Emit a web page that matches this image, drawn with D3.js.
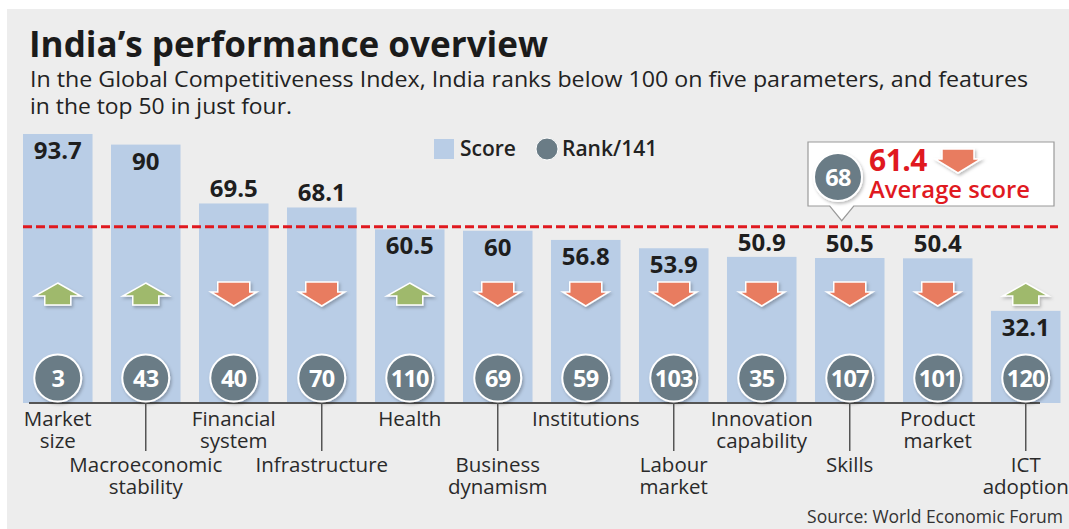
<!DOCTYPE html>
<html>
<head>
<meta charset="utf-8">
<script src="https://cdn.jsdelivr.net/npm/d3@7"></script>
<style>
  body { margin: 0; background: #fff; }
  svg { display: block; font-family: "Open Sans", "Noto Sans", sans-serif; }
</style>
</head>
<body>
<svg id="chart"></svg>
<script>
const categories = ["Market size", "Macroeconomic stability", "Financial system", "Infrastructure",
  "Health", "Business dynamism", "Institutions", "Labour market", "Innovation capability",
  "Skills", "Product market", "ICT adoption"];
const scores = [93.7, 90, 69.5, 68.1, 60.5, 60, 56.8, 53.9, 50.9, 50.5, 50.4, 32.1];
const ranks = [3, 43, 40, 70, 110, 69, 59, 103, 35, 107, 101, 120];
const trends = ["up", "up", "down", "down", "up", "down", "down", "down", "down", "down", "down", "up"];
const avgScore = 61.4;
const avgRank = 68;
const avgTrend = "down";

const width = 1069, height = 529;
const svg = d3.select("#chart").attr("width", width).attr("height", height);

const barColor = "#b9cde6", rankColor = "#6a7c86", green = "#9fb96c", orange = "#e87b60", red = "#e0191f";

const defs = svg.append("defs");
const shadow = defs.append("filter").attr("id", "shadow")
  .attr("x", "-30%").attr("y", "-30%").attr("width", "160%").attr("height", "160%");
shadow.append("feDropShadow").attr("dx", 1.5).attr("dy", 2).attr("stdDeviation", 1.5)
  .attr("flood-color", "#000").attr("flood-opacity", 0.25);

// panel
svg.append("rect").attr("x", 7).attr("y", 9).attr("width", width - 7).attr("height", height - 9)
  .attr("fill", "#ededed");

// title + subtitle
svg.append("text").attr("x", 29).attr("y", 57)
  .style("font-size", "35px").style("font-weight", 700)
  .attr("textLength", 519).attr("lengthAdjust", "spacingAndGlyphs")
  .attr("fill", "#1b1b1b").text("India\u2019s performance overview");
svg.append("text").attr("x", 30).attr("y", 87)
  .style("font-size", "22px").attr("fill", "#222")
  .attr("textLength", 998).attr("lengthAdjust", "spacingAndGlyphs")
  .text("In the Global Competitiveness Index, India ranks below 100 on five parameters, and features");
svg.append("text").attr("x", 30).attr("y", 114)
  .style("font-size", "22px").attr("fill", "#222")
  .attr("textLength", 262).attr("lengthAdjust", "spacingAndGlyphs")
  .text("in the top 50 in just four.");

const x = d3.scaleBand().domain(categories).range([23, 1060.5]).paddingInner(0.21).paddingOuter(0);
const y = d3.scaleLinear().domain([0, 100]).range([403, 115.9]);

const data = categories.map((c, i) => ({ cat: c, score: scores[i], rank: ranks[i], trend: trends[i] }));
const cx = d => x(d.cat) + x.bandwidth() / 2;

// bars
svg.selectAll("rect.bar").data(data).enter().append("rect").attr("class", "bar")
  .attr("x", d => x(d.cat)).attr("width", x.bandwidth())
  .attr("y", d => y(d.score)).attr("height", d => y(0) - y(d.score))
  .attr("fill", barColor);

// average line
const avgY = y(avgScore);
svg.append("line").attr("x1", 23).attr("x2", 1058).attr("y1", avgY).attr("y2", avgY)
  .attr("stroke", red).attr("stroke-width", 3).attr("stroke-dasharray", "9,4");

// arrows
const arrowCy = 294;
function arrowPath(cxv, cyv, dir) {
  if (dir === "up") {
    const t = cyv - 11, b = cyv + 11, h = t + 13;
    return `M${cxv},${t}L${cxv + 23},${h}L${cxv + 13},${h}L${cxv + 13},${b}L${cxv - 13},${b}L${cxv - 13},${h}L${cxv - 23},${h}Z`;
  }
  const t = cyv - 12, b = cyv + 12, h = t + 10;
  return `M${cxv - 16},${t}L${cxv + 16},${t}L${cxv + 16},${h}L${cxv + 23},${h}L${cxv},${b}L${cxv - 23},${h}L${cxv - 16},${h}Z`;
}
svg.selectAll("path.arrow").data(data).enter().append("path").attr("class", "arrow")
  .attr("d", d => arrowPath(cx(d), arrowCy, d.trend))
  .attr("fill", d => d.trend === "up" ? green : orange)
  .attr("stroke", "#fff").attr("stroke-width", 1.5).attr("filter", "url(#shadow)");

// value labels: inside the bar unless they would hit the average line or arrows
svg.selectAll("text.val").data(data).enter().append("text").attr("class", "val")
  .attr("x", cx).attr("text-anchor", "middle")
  .attr("y", d => {
    const inside = y(d.score) + 25;
    const hitsAvg = inside - 17 < avgY + 2 && inside > avgY - 2;
    const hitsArrow = inside > arrowCy - 14 && inside - 17 < arrowCy + 12;
    return (hitsAvg || hitsArrow) ? y(d.score) - 6 : inside;
  })
  .style("font-size", "24px").style("font-weight", 700).attr("fill", "#1e1e1e")
  .text(d => d.score);

// axis line
svg.append("line").attr("x1", 29).attr("x2", 1040).attr("y1", y(0)).attr("y2", y(0))
  .attr("stroke", "#555").attr("stroke-width", 2);

// rank circles
const rankCy = 378;
svg.selectAll("circle.rank").data(data).enter().append("circle").attr("class", "rank")
  .attr("cx", cx).attr("cy", rankCy).attr("r", 23.5)
  .attr("fill", rankColor).attr("stroke", "#fff").attr("stroke-width", 2).attr("filter", "url(#shadow)");
svg.selectAll("text.rank").data(data).enter().append("text").attr("class", "rank")
  .attr("x", cx).attr("y", rankCy + 8.5).attr("text-anchor", "middle")
  .style("font-size", "23.5px").style("font-weight", 700).style("letter-spacing", "-0.8px")
  .attr("fill", "#fff").text(d => d.rank);

// category labels, staggered
const labels = svg.selectAll("g.cat").data(data).enter().append("g").attr("class", "cat");
labels.filter((d, i) => i % 2 === 1).append("line")
  .attr("x1", cx).attr("x2", cx).attr("y1", y(0)).attr("y2", 451)
  .attr("stroke", "#555").attr("stroke-width", 1.5);
labels.each(function(d, i) {
  const base = i % 2 === 0 ? 426 : 472;
  d.cat.split(" ").forEach((w, j) => {
    d3.select(this).append("text").attr("text-anchor", "middle")
      .attr("x", cx(d)).attr("y", base + j * 22)
      .style("font-size", "20.5px").attr("fill", "#2a2a2a").text(w);
  });
});

// legend
svg.append("rect").attr("x", 434).attr("y", 139).attr("width", 20).attr("height", 20).attr("fill", barColor);
svg.append("text").attr("x", 460).attr("y", 156).style("font-size", "21px").style("font-weight", 600)
  .attr("fill", "#222").text("Score");
svg.append("circle").attr("cx", 547).attr("cy", 149).attr("r", 11).attr("fill", rankColor)
  .attr("stroke", "#fff").attr("stroke-width", 1);
svg.append("text").attr("x", 562).attr("y", 156).style("font-size", "21px").style("font-weight", 600)
  .attr("fill", "#222").text("Rank/141");

// average callout
const tipX = cx(data[9]) - 8;
const co = svg.append("g");
co.append("path")
  .attr("d", `M808,142H1054V206H${tipX + 12}L${tipX},${avgY - 6}L${tipX - 12},206H808Z`)
  .attr("fill", "#fff").attr("stroke", "#9a9a9a").attr("stroke-width", 1.2);
co.append("circle").attr("cx", 838).attr("cy", 177).attr("r", 24).attr("fill", rankColor)
  .attr("stroke", "#fff").attr("stroke-width", 2).attr("filter", "url(#shadow)");
co.append("text").attr("x", 838).attr("y", 185.5).attr("text-anchor", "middle")
  .style("font-size", "23.5px").style("font-weight", 700).style("letter-spacing", "-0.8px")
  .attr("fill", "#fff").text(avgRank);
co.append("text").attr("x", 869).attr("y", 171).style("font-size", "30px").style("font-weight", 700)
  .style("letter-spacing", "-0.5px").attr("fill", red).text(avgScore);
co.append("path").attr("d", arrowPath(958, 161, avgTrend)).attr("fill", orange)
  .attr("stroke", "#fff").attr("stroke-width", 1.5).attr("filter", "url(#shadow)");
co.append("text").attr("x", 869).attr("y", 198).style("font-size", "24px").style("font-weight", 600)
  .attr("textLength", 161).attr("lengthAdjust", "spacingAndGlyphs")
  .attr("fill", red).text("Average score");

// source
svg.append("text").attr("x", 1063).attr("y", 523).attr("text-anchor", "end")
  .style("font-size", "17.5px").attr("fill", "#333").text("Source: World Economic Forum");
</script>
</body>
</html>
